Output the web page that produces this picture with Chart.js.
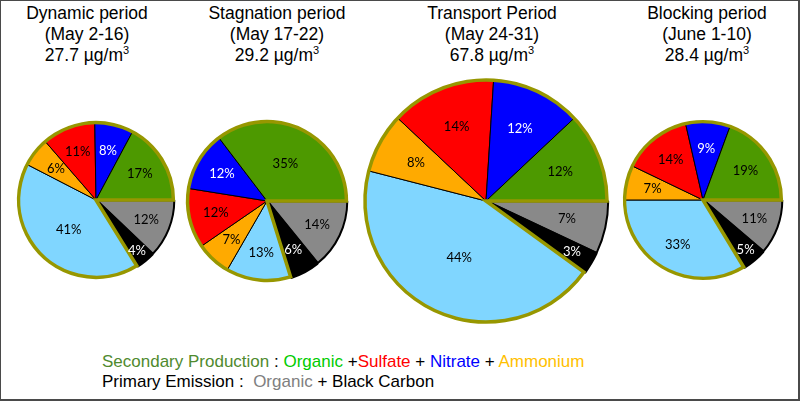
<!DOCTYPE html>
<html>
<head>
<meta charset="utf-8">
<script src="https://cdn.jsdelivr.net/npm/chart.js@4/dist/chart.umd.min.js"></script>
<style>
  body { margin: 0; background: #fff; }
  #page { position: relative; width: 800px; height: 401px; overflow: hidden; background: #fff; }
  #frame { position: absolute; left: 0; top: 0; width: 800px; height: 401px; box-sizing: border-box;
           border-style: solid; border-color: #4a4a4a; border-width: 1px 2px 2px 1px; pointer-events: none; }
  .title { position: absolute; top: 3px; width: 220px; text-align: center; color: #000;
           font-family: "Liberation Sans", Arial, sans-serif; font-size: 17.5px; line-height: 21px; }
  .legend { position: absolute; left: 102px; top: 352px; font-family: "Liberation Sans", Arial, sans-serif;
            font-size: 17px; line-height: 20px; color: #000; white-space: pre; }
  canvas { position: absolute; }
</style>
</head>
<body>
<div id="page">
  <div class="legend"><span style="color:#4f8a2e">Secondary Production</span> : <span style="color:#00cc00">Organic</span> +<span style="color:#ff0000">Sulfate</span> + <span style="color:#0000ff">Nitrate</span> + <span style="color:#ffc000">Ammonium</span>
Primary Emission :  <span style="color:#808080">Organic</span> + Black Carbon</div>
  <div id="frame"></div>
</div>
<script>
const periods = ['Dynamic period', 'Stagnation period', 'Transport Period', 'Blocking period'];
const dateRanges = ['(May 2-16)', '(May 17-22)', '(May 24-31)', '(June 1-10)'];
const concentrations = [27.7, 29.2, 67.8, 28.4];
const components = ['Primary Organic', 'Black Carbon', 'Others', 'Ammonium', 'Sulfate', 'Nitrate', 'Secondary Organic'];
const dynamicShares = [12, 4, 41, 6, 11, 8, 17];
const stagnationShares = [14, 6, 13, 7, 12, 12, 35];
const transportShares = [7, 3, 44, 8, 14, 12, 12];
const blockingShares = [11, 5, 33, 7, 14, 9, 19];
const allShares = [dynamicShares, stagnationShares, transportShares, blockingShares];

const colors = ['#898989', '#000000', '#80d6ff', '#ffaa00', '#ff0000', '#0000ff', '#4d9900'];
const labelColors = ['#000', '#fff', '#000', '#000', '#000', '#fff', '#000'];
const centersX = [96, 267, 486, 703];
const centersY = [200, 201, 201, 200];
const titleX = [87, 277, 492, 707];
const primaryCount = 2;

// outline of the secondary sector + percentage labels
const pieDecor = {
    id: 'pieDecor',
    afterDatasetsDraw(chart) {
        const ctx = chart.ctx;
        const arcs = chart.getDatasetMeta(0).data;
        const vals = chart.data.datasets[0].data;
        const first = arcs[primaryCount], last = arcs[arcs.length - 1];
        ctx.save();
        ctx.beginPath();
        ctx.moveTo(first.x, first.y);
        ctx.arc(first.x, first.y, first.outerRadius, first.startAngle, last.endAngle);
        ctx.closePath();
        ctx.lineWidth = 3.5;
        ctx.lineJoin = 'miter';
        ctx.strokeStyle = '#979700';
        ctx.stroke();
        ctx.font = '13px Lato, "Noto Sans", sans-serif';
        ctx.textAlign = 'center';
        ctx.textBaseline = 'middle';
        arcs.forEach((a, i) => {
            const mid = (a.startAngle + a.endAngle) / 2;
            const f = vals[i] >= 35 ? 0.52 : (vals[i] <= 5 ? 0.8 : 0.66);
            const d = a.outerRadius * f + (i < primaryCount ? 3 : 0);
            ctx.fillStyle = labelColors[i];
            ctx.fillText(vals[i] + '%', a.x + Math.cos(mid) * d, a.y + Math.sin(mid) * d);
        });
        ctx.restore();
    }
};

const page = document.getElementById('page');
const frame = document.getElementById('frame');
allShares.forEach((shares, k) => {
    const t = document.createElement('div');
    t.className = 'title';
    t.style.left = (titleX[k] - 110) + 'px';
    t.innerHTML = periods[k] + '<br>' + dateRanges[k] + '<br>' + concentrations[k].toFixed(1) + ' µg/m<sup style="font-size:11px;line-height:0">3</sup>';
    page.insertBefore(t, frame);

    const r = 14.7 * Math.sqrt(concentrations[k]);
    const size = 2 * Math.ceil(r) + 24;
    const cv = document.createElement('canvas');
    cv.width = size; cv.height = size;
    cv.style.left = (centersX[k] - size / 2) + 'px';
    cv.style.top = (centersY[k] - size / 2) + 'px';
    page.insertBefore(cv, frame);

    new Chart(cv, {
        type: 'pie',
        data: {
            labels: components,
            datasets: [{
                data: shares,
                backgroundColor: colors,
                borderColor: '#000',
                borderWidth: [2, 2, 1, 1, 1, 1, 1],
                offset: [3, 3, 0, 0, 0, 0, 0]
            }]
        },
        options: {
            responsive: false,
            animation: false,
            rotation: 90,
            radius: r,
            layout: { padding: 0 },
            plugins: { legend: { display: false }, tooltip: { enabled: false } }
        },
        plugins: [pieDecor]
    });
});
</script>
</body>
</html>
